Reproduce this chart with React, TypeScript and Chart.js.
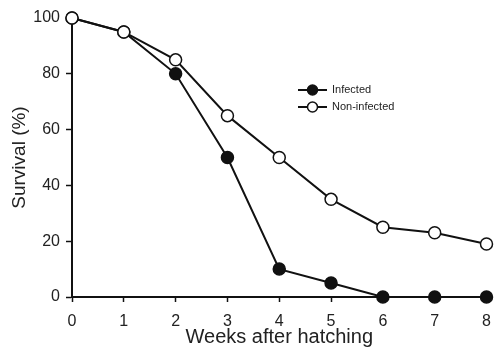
import React, { useEffect, useRef } from "react";
import { Chart, registerables } from "chart.js";

Chart.register(...registerables);

const weeks = [0, 1, 2, 3, 4, 5, 6, 7, 8];
const infected = [100, 95, 80, 50, 10, 5, 0, 0, 0];
const nonInfected = [100, 95, 85, 65, 50, 35, 25, 23, 19];
const seriesLabels = ["Infected", "Non-infected"];
const xTitle = "Weeks after hatching";
const yTitle = "Survival (%)";

const INK = "#111";
const FONT = "'Liberation Sans', Arial, sans-serif";

const legendPlugin = {
  id: "customLegend",
  afterDraw(chart: any) {
    const ctx = chart.ctx;
    const items = [
      { label: seriesLabels[0], fill: INK, y: 90 },
      { label: seriesLabels[1], fill: "#fff", y: 107 },
    ];
    ctx.save();
    for (const it of items) {
      ctx.strokeStyle = INK;
      ctx.lineWidth = 2;
      ctx.beginPath();
      ctx.moveTo(298, it.y);
      ctx.lineTo(327, it.y);
      ctx.stroke();
      ctx.beginPath();
      ctx.arc(312.5, it.y, 5, 0, Math.PI * 2);
      ctx.fillStyle = it.fill;
      ctx.fill();
      ctx.lineWidth = 1.5;
      ctx.stroke();
      ctx.fillStyle = "#222";
      ctx.font = `11px ${FONT}`;
      ctx.textBaseline = "middle";
      ctx.textAlign = "left";
      ctx.fillText(it.label, 332, it.y);
    }
    ctx.restore();
  },
};

export default function App() {
  const ref = useRef<HTMLCanvasElement>(null);
  useEffect(() => {
    if (!ref.current) return;
    const chart = new Chart(ref.current, {
      type: "line",
      data: {
        datasets: [
          {
            label: seriesLabels[1],
            data: weeks.map((w, i) => ({ x: w, y: nonInfected[i] })),
            borderColor: INK,
            borderWidth: 2,
            backgroundColor: "#fff",
            pointBackgroundColor: "#fff",
            pointBorderColor: INK,
            pointBorderWidth: 1.5,
            pointRadius: 6,
            order: 0,
            clip: false as any,
          },
          {
            label: seriesLabels[0],
            data: weeks.map((w, i) => ({ x: w, y: infected[i] })),
            borderColor: INK,
            borderWidth: 2,
            backgroundColor: INK,
            pointBackgroundColor: INK,
            pointBorderColor: INK,
            pointBorderWidth: 1.5,
            pointRadius: 6,
            order: 1,
            clip: false as any,
          },
        ],
      },
      options: {
        animation: false,
        responsive: false,
        layout: { padding: { top: 18, right: 6, left: 0, bottom: 0 } },
        plugins: { legend: { display: false }, tooltip: { enabled: false } },
        scales: {
          x: {
            type: "linear",
            min: 0,
            max: 8,
            grid: {
              display: true,
              drawOnChartArea: false,
              drawTicks: true,
              tickLength: 5,
              tickWidth: 1.5,
              tickColor: INK,
            },
            border: { display: true, color: INK, width: 2 },
            ticks: {
              stepSize: 1,
              color: "#222",
              font: { family: FONT, size: 16 },
              padding: 10,
              maxRotation: 0,
            },
            title: {
              display: true,
              text: xTitle,
              color: "#222",
              font: { family: FONT, size: 20 },
              padding: { top: -6, bottom: -2 },
            },
            afterFit(scale: any) {
              scale.height = 50;
              scale.paddingLeft = 0;
              scale.paddingRight = 0;
            },
          },
          y: {
            min: 0,
            max: 100,
            grid: {
              display: true,
              drawOnChartArea: false,
              drawTicks: true,
              tickLength: 6,
              tickWidth: 1.5,
              tickColor: INK,
            },
            border: { display: true, color: INK, width: 2 },
            ticks: {
              stepSize: 20,
              color: "#222",
              font: { family: FONT, size: 16 },
              padding: 6,
            },
            title: {
              display: true,
              text: yTitle,
              color: "#222",
              font: { family: FONT, size: 19 },
              padding: { top: 8, bottom: 4 },
            },
            afterFit(scale: any) {
              scale.width = 72;
              scale.paddingTop = 0;
              scale.paddingBottom = 0;
            },
          },
        },
      },
      plugins: [legendPlugin],
    });
    return () => chart.destroy();
  }, []);
  return (
    <div style={{ position: "fixed", left: 0, top: 0, width: 494, height: 347, background: "#fff" }}>
      <canvas ref={ref} width={494} height={347} />
    </div>
  );
}
